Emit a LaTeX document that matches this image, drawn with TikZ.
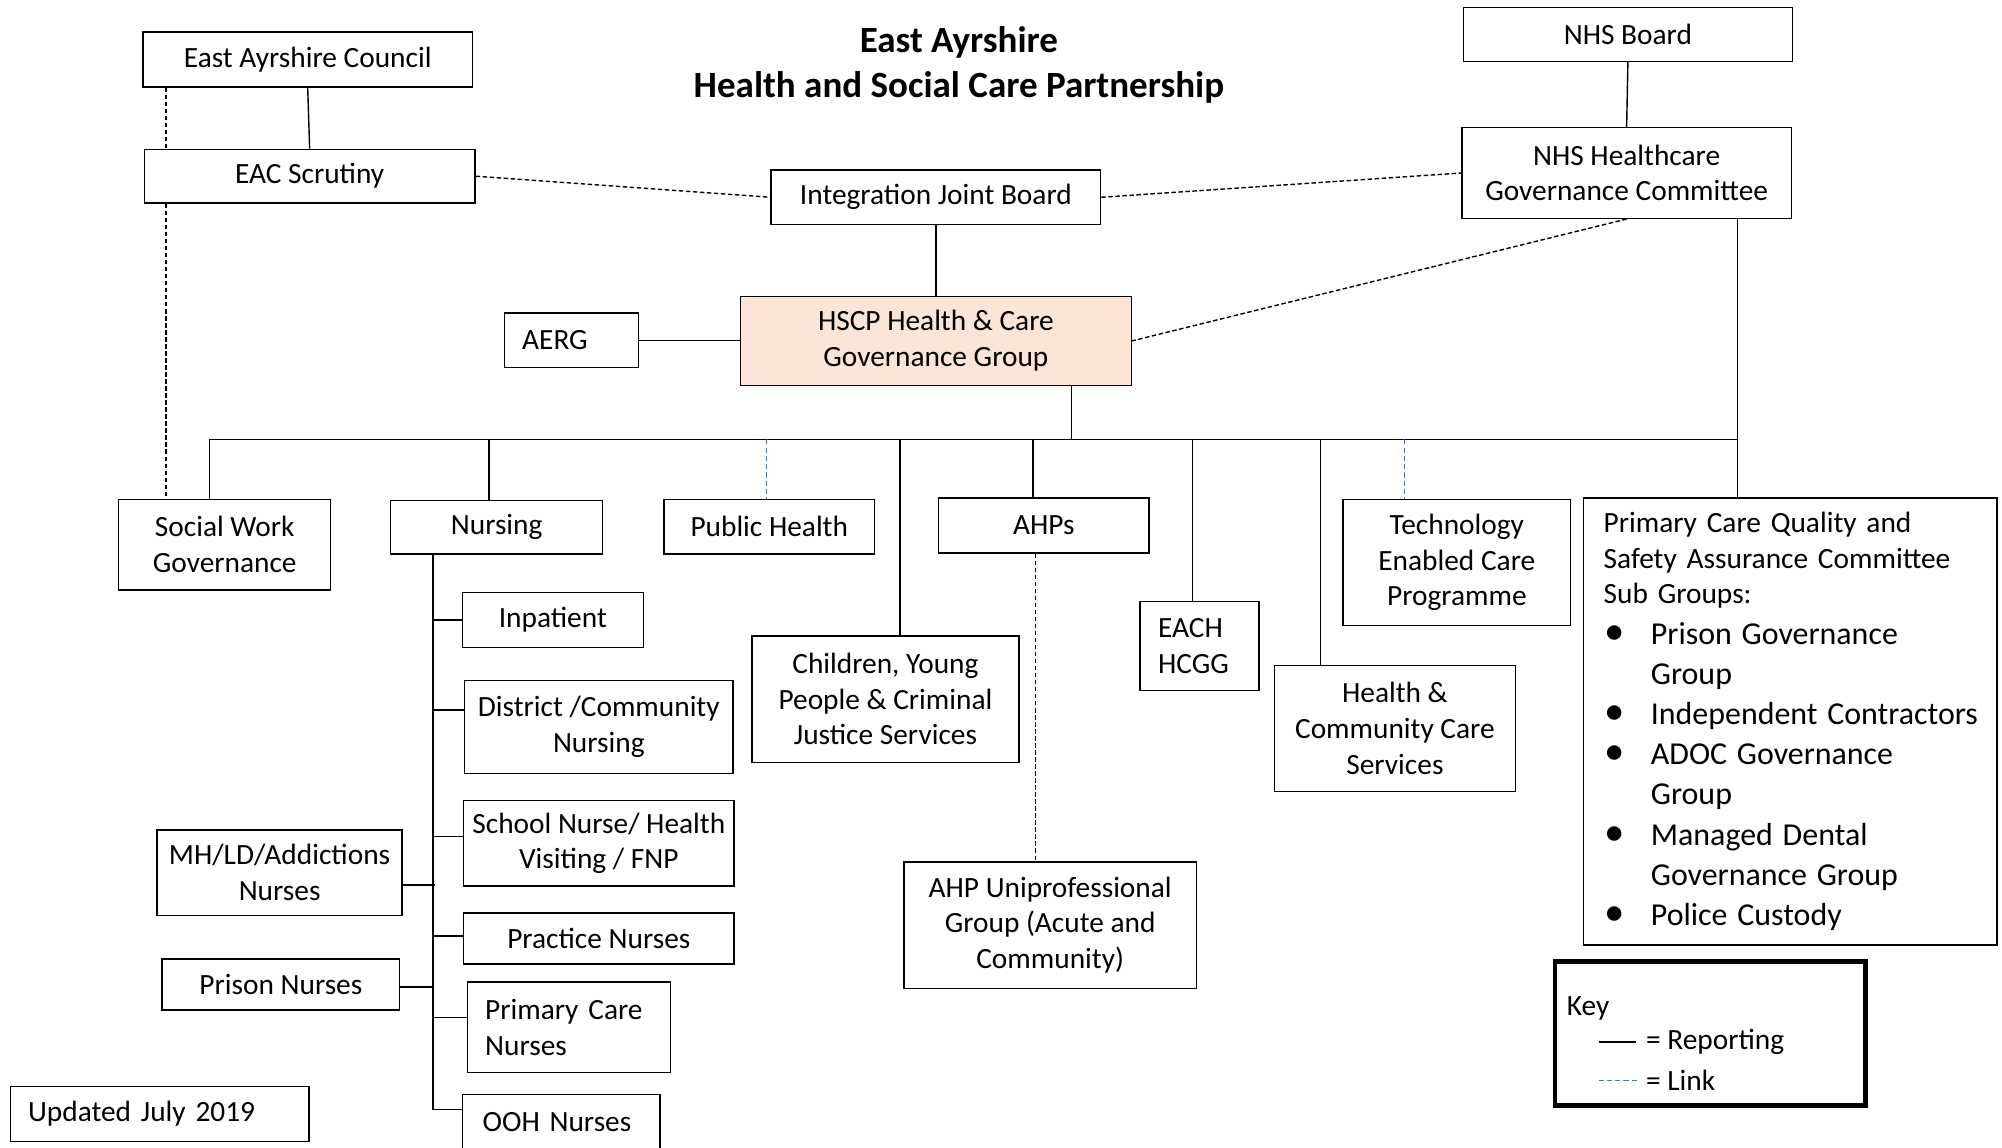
\documentclass[tikz,border=0pt]{standalone}
\usepackage{fontspec}
\setmainfont{Carlito}
\usetikzlibrary{positioning}

\definecolor{linkblue}{HTML}{4472C4}
\definecolor{hscpfill}{HTML}{FBE5D6}

% bullet line with hanging indent for the sub group list
\newcommand\pcitem[1]{\par\noindent\hangindent=37pt\hangafter=1\makebox[37pt][l]{\hspace{1pt}{\fontsize{32}{31.5}\selectfont\textbullet}}#1}

\begin{document}
\begin{tikzpicture}[
    x=1pt, y=-1pt,
    box/.style={
        draw,
        fill=white,
        line width=1.1pt,
        inner sep=0pt,
        align=center,
        font=\fontsize{23}{28}\selectfont,
    },
    boxsize/.style 2 args={
        minimum width=#1pt,
        minimum height=#2pt,
    },
    leftbox/.style={
        box,
        align=left,
        inner xsep=14pt,
    },
    title/.style={
        align=center,
        inner sep=0pt,
        font=\fontsize{29}{35}\selectfont\bfseries,
    },
    keytext/.style={
        inner sep=0pt,
        font=\fontsize{23}{28}\selectfont,
    },
    report/.style={
        line width=1.1pt,
    },
    boardlink/.style={
        line width=1.1pt,
        dash pattern=on 3.5pt off 2pt,
    },
    bluelink/.style={
        linkblue,
        line width=0.9pt,
        dash pattern=on 4pt off 2.5pt,
    }
]
    \useasboundingbox (0,0) rectangle (1568,899);

    % Title
    \node[title] (title) at (751,51) {East Ayrshire\\Health and Social Care Partnership};

    % Top level
    \node[box, boxsize={258}{43}] (eac) at (241,46.5) {East Ayrshire Council};
    \node[box, boxsize={259}{42}] (scrutiny) at (242.5,138) {EAC Scrutiny};
    \node[box, boxsize={258}{42}] (nhsboard) at (1275,27) {NHS Board};
    \node[box, boxsize={258}{71}] (nhsgc) at (1274,135.5) {NHS Healthcare\\Governance Committee};
    \node[box, boxsize={258}{43}] (ijb) at (733,154.5) {Integration Joint Board};
    \node[box, boxsize={306}{70}, fill=hscpfill] (hscp) at (733,267) {HSCP Health \& Care\\Governance Group};
    \node[leftbox, text width=77pt, minimum height=43pt] (aerg) at (447.5,266.5) {AERG};

    % Second row
    \node[box, boxsize={166}{71}] (socwork) at (176,426.5) {Social Work\\Governance};
    \node[box, boxsize={166}{42}] (nursing) at (389,413) {Nursing};
    \node[box, boxsize={165}{43}] (pubhealth) at (602.5,412.5) {Public Health};
    \node[box, boxsize={165}{43}] (ahps) at (817.5,411.5) {AHPs};
    \node[box, boxsize={209}{99}] (cypcj) at (693.5,547.5) {Children, Young\\People \& Criminal\\Justice Services};
    \node[leftbox, text width=65pt, minimum height=70pt] (each) at (939.5,506) {EACH\\HCGG};
    \node[box, boxsize={189}{99}] (hccs) at (1092.5,570.5) {Health \&\\Community Care\\Services};
    \node[box, boxsize={178}{99}] (tec) at (1141,440.5) {Technology\\Enabled Care\\Programme};
    \node[leftbox, inner xsep=16pt, text width=292pt, minimum height=350pt] (pcq) at (1402,565) {Primary Care Quality and\\Safety Assurance Committee\\Sub Groups:\par
        {\fontsize{25}{31.5}\selectfont
        \pcitem{Prison Governance\newline Group}
        \pcitem{\mbox{Independent Contractors}}
        \pcitem{ADOC Governance\newline Group}
        \pcitem{Managed Dental\newline Governance Group}
        \pcitem{Police Custody}\par}};
    \node[box, boxsize={229}{99}] (ahpuni) at (822.5,724.5) {AHP Uniprofessional\\Group (Acute and\\Community)};

    % Nursing groups
    \node[box, boxsize={142}{43}] (inpat) at (433,485.5) {Inpatient};
    \node[box, boxsize={210}{73}] (district) at (469,569.5) {District /Community\\Nursing};
    \node[box, boxsize={212}{67}] (school) at (469,660.5) {School Nurse/ Health\\Visiting / FNP};
    \node[box, boxsize={212}{40}] (practice) at (469,735) {Practice Nurses};
    \node[leftbox, text width=131pt, minimum height=71pt] (pcnurse) at (445.5,804.5) {Primary Care\\Nurses};
    \node[leftbox, inner xsep=16pt, text width=123pt, minimum height=43pt] (ooh) at (439.5,878.5) {OOH Nurses};
    \node[box, boxsize={192}{67}] (mhld) at (219,683.5) {MH/LD/Addictions\\Nurses};
    \node[box, boxsize={186}{40}] (prison) at (220,771) {Prison Nurses};

    \node[leftbox, text width=206pt, minimum height=43pt] (updated) at (125,872.5) {Updated July 2019};

    % Reporting lines
    \draw[report] (eac.south) -- (scrutiny.north);
    \draw[report] (nhsboard.south) -- (nhsgc.north);
    \draw[report] (ijb.south) -- (hscp.north);
    \draw[report] (aerg.east) -- (aerg.east -| hscp.west);

    \coordinate (busL) at (164,344);
    \coordinate (pcqtop) at ([xshift=87pt]nhsgc.south);
    \draw[report] (busL) -- (busL -| pcqtop);
    \draw[report] (pcqtop) -- (pcqtop |- pcq.north);
    \draw[report] ([xshift=106pt]hscp.south) -- ([xshift=106pt]hscp.south |- busL);
    \foreach \bx/\child in {164/socwork, 383/nursing, 705/cypcj, 809/ahps, 934/each, 1034/hccs} {
        \path (\bx,344) coordinate (drop);
        \draw[report] (drop) -- (drop |- \child.north);
    }

    % Nursing tree
    \coordinate (trunk) at ([xshift=-50pt]nursing.south);
    \draw[report] (trunk) -- ([yshift=9.5pt]ooh.west -| trunk);
    \foreach \child/\dy in {inpat/0, district/13.5, school/5.5, practice/2, pcnurse/7.5, ooh/9.5}
        \draw[report] ([yshift=\dy pt]\child.west) -- ([yshift=\dy pt]\child.west -| trunk);
    \draw[report] ([yshift=-9.5pt]mhld.east) -- ([yshift=-9.5pt, xshift=2pt]mhld.east -| trunk);
    \draw[report] ([yshift=-2pt]prison.east) -- ([yshift=-2pt]prison.east -| trunk);

    % Board links
    \draw[boardlink] (scrutiny.east) -- (ijb.west);
    \draw[boardlink] (ijb.east) -- (nhsgc.west);
    \draw[boardlink] (nhsgc.south) -- (hscp.east);
    \coordinate (swtop) at ([xshift=-46pt]socwork.north);
    \draw[boardlink] (eac.south -| swtop) -- (scrutiny.north -| swtop);
    \draw[boardlink] (scrutiny.south -| swtop) -- (swtop);
    \draw[boardlink] ([xshift=-6.5pt]ahps.south) -- ([xshift=-6.5pt]ahps.south |- ahpuni.north);

    % Blue links
    \path (600,344) coordinate (b-ph);
    \draw[bluelink] (b-ph) -- (b-ph |- pubhealth.north);
    \path (1100,344) coordinate (b-tec);
    \draw[bluelink] (b-tec) -- (b-tec |- tec.north);

    % Key
    \node[draw, line width=3.5pt, minimum width=243pt, minimum height=113pt] (key) at (1339.5,809.5) {};
    \node[keytext, anchor=west] (keyhead) at (1227,790) {Key};
    \coordinate (rep-a) at (1252,816);
    \draw[report] (rep-a) -- ++(29,0) coordinate (rep-b);
    \node[keytext, right=8pt of rep-b] (keyrep) {= Reporting};
    \coordinate (lnk-a) at (1252,846);
    \draw[bluelink] (lnk-a) -- ++(31,0) coordinate (lnk-b);
    \node[keytext, right=6pt of lnk-b] (keylnk) {= Link};
\end{tikzpicture}
\end{document}
